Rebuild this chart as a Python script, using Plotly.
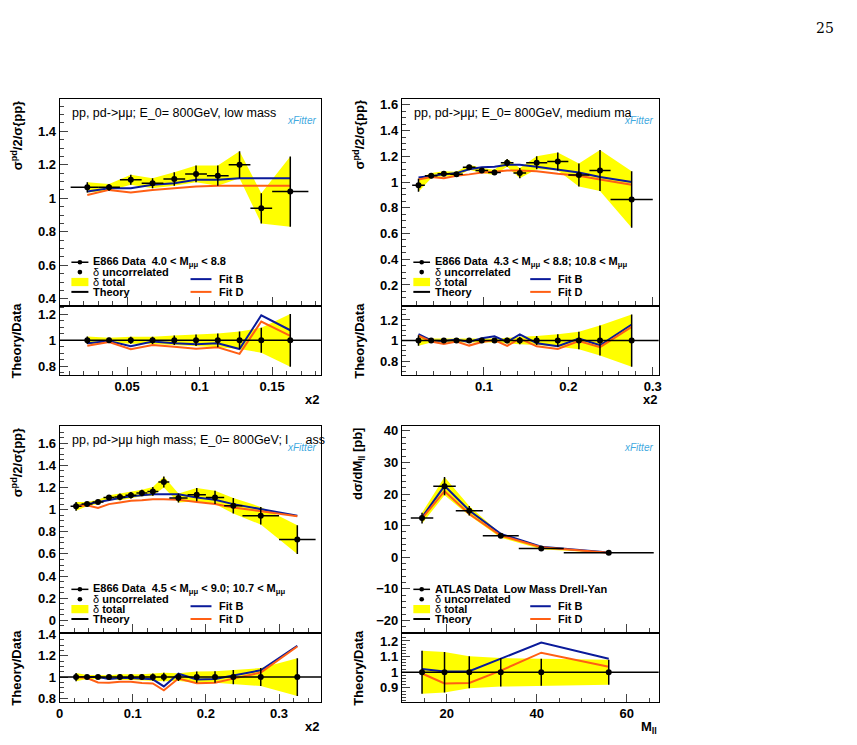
import plotly.graph_objects as go

W, H = 857, 745
FONT = "Liberation Sans"

# ---------------- data ----------------
# Panel 1: E866 low mass
p1_x = [0.0225, 0.0375, 0.0525, 0.0675, 0.0825, 0.0975, 0.1125, 0.1275, 0.1425, 0.1625]
p1_xlo = [0.0115, 0.0075, 0.0075, 0.0075, 0.0075, 0.0075, 0.0075, 0.0075, 0.0075, 0.0125]
p1_xhi = [0.0075, 0.0075, 0.0075, 0.0075, 0.0075, 0.0075, 0.0075, 0.0075, 0.0075, 0.0125]
p1_y = [1.065, 1.065, 1.11, 1.09, 1.115, 1.145, 1.135, 1.20, 0.94, 1.04]
p1_unc = [0.03, 0.015, 0.02, 0.025, 0.03, 0.04, 0.06, 0.09, 0.10, 0.21]
p1_tot = [0.03, 0.02, 0.03, 0.03, 0.04, 0.05, 0.06, 0.08, 0.09, 0.21]
p1_B = [1.04, 1.06, 1.06, 1.08, 1.09, 1.11, 1.11, 1.12, 1.12, 1.12]
p1_D = [1.02, 1.05, 1.035, 1.05, 1.06, 1.07, 1.075, 1.075, 1.075, 1.075]

# Panel 2: E866 medium mass
p2_x = [0.0225, 0.0375, 0.0525, 0.0675, 0.0825, 0.0975, 0.1125, 0.1275, 0.1425, 0.1625, 0.1875, 0.2125, 0.2375, 0.275]
p2_xe = [0.0075] * 9 + [0.0125, 0.0125, 0.0125, 0.0125, 0.025]
p2_y = [0.975, 1.05, 1.065, 1.06, 1.115, 1.09, 1.075, 1.15, 1.07, 1.15, 1.16, 1.055, 1.09, 0.865]
p2_unc = [0.05, 0.02, 0.02, 0.02, 0.02, 0.02, 0.02, 0.03, 0.04, 0.04, 0.06, 0.08, 0.16, 0.22]
p2_tot = [0.05, 0.02, 0.02, 0.02, 0.02, 0.02, 0.02, 0.03, 0.04, 0.05, 0.07, 0.09, 0.16, 0.22]
p2_B = [1.035, 1.05, 1.06, 1.07, 1.10, 1.115, 1.12, 1.135, 1.135, 1.12, 1.095, 1.075, 1.04, 1.0]
p2_D = [1.02, 1.04, 1.03, 1.05, 1.06, 1.075, 1.08, 1.09, 1.09, 1.085, 1.065, 1.05, 1.02, 0.98]

# Panel 3: E866 high mass
p3_x = [0.0225, 0.0375, 0.0525, 0.0675, 0.0825, 0.0975, 0.1125, 0.1275, 0.1425, 0.1625, 0.1875, 0.2125, 0.2375, 0.275, 0.325]
p3_xe = [0.0075] * 9 + [0.0125, 0.0125, 0.0125, 0.0125, 0.025, 0.025]
p3_y = [1.03, 1.05, 1.07, 1.11, 1.115, 1.13, 1.15, 1.165, 1.25, 1.105, 1.135, 1.11, 1.035, 0.945, 0.73]
p3_unc = [0.03, 0.01, 0.01, 0.015, 0.015, 0.02, 0.02, 0.025, 0.04, 0.03, 0.04, 0.05, 0.07, 0.07, 0.14]
p3_tot = [0.04, 0.02, 0.02, 0.02, 0.03, 0.03, 0.03, 0.04, 0.05, 0.04, 0.06, 0.06, 0.07, 0.08, 0.13]
p3_B = [1.03, 1.05, 1.07, 1.09, 1.105, 1.12, 1.13, 1.14, 1.14, 1.14, 1.11, 1.09, 1.05, 1.005, 0.945]
p3_D = [1.03, 1.04, 1.015, 1.05, 1.065, 1.08, 1.085, 1.095, 1.095, 1.09, 1.07, 1.05, 1.02, 0.985, 0.94]

# Panel 4: ATLAS low mass DY
p4_x = [14.5, 19.5, 25, 32, 41, 56]
p4_xe = [2.5, 2.5, 3, 4, 5, 10]
p4_y = [12.4, 22.5, 14.7, 6.8, 2.8, 1.4]
p4_unc = [0.5, 0.45, 0.3, 0.2, 0.14, 0.056]
p4_tot = [1.7, 2.9, 1.5, 0.62, 0.24, 0.112]
p4_B = [12.65, 22.6, 14.8, 7.4, 3.33, 1.52]
p4_D = [12.3, 20.9, 13.7, 6.87, 3.15, 1.45]

DX, DY = -11, -12
def px2x(p): return (p + DX) / W
def px2y(p): return 1 - (p + DY) / H

panels = [
    dict(x=p1_x, xlo=p1_xlo, xhi=p1_xhi, y=p1_y, unc=p1_unc, tot=p1_tot, B=p1_B, D=p1_D,
         px=(59, 323), pm=(97, 306), pr=(308, 377), xr=(0.0034, 0.184), yr=(0.365, 1.594), rr=(0.737, 1.258),
         dtick=0.05, ydt=0.2, rdt=0.2, title="pp, pd->μμ; E_0= 800GeV, low mass",
         leg="E866 Data  4.0 < M<sub>μμ</sub> < 8.8", ytitle="σ<sup>pd</sup>/2/σ{pp}", xtitle="x2"),
    dict(x=p2_x, xlo=p2_xe, xhi=p2_xe, y=p2_y, unc=p2_unc, tot=p2_tot, B=p2_B, D=p2_D,
         px=(404, 663), pm=(97, 306), pr=(308, 377), xr=(0.0027, 0.307), yr=(0.047, 1.648), rr=(0.668, 1.33),
         dtick=0.1, ydt=0.2, rdt=0.2, title="pp, pd->μμ; E_0= 800GeV, medium ma",
         leg="E866 Data  4.3 < M<sub>μμ</sub> < 8.8; 10.8 < M<sub>μμ</sub>", ytitle="σ<sup>pd</sup>/2/σ{pp}", xtitle="x2"),
    dict(x=p3_x, xlo=p3_xe, xhi=p3_xe, y=p3_y, unc=p3_unc, tot=p3_tot, B=p3_B, D=p3_D,
         px=(59, 323), pm=(429, 638), pr=(640, 709), xr=(0.0, 0.358), yr=(-0.103, 1.757), rr=(0.768, 1.408),
         dtick=0.1, ydt=0.2, rdt=0.2, title="pp, pd->μμ high mass; E_0= 800GeV; l     ass",
         leg="E866 Data  4.5 < M<sub>μμ</sub> < 9.0; 10.7 < M<sub>μμ</sub>", ytitle="σ<sup>pd</sup>/2/σ{pp}", xtitle="x2"),
    dict(x=p4_x, xlo=p4_xe, xhi=p4_xe, y=p4_y, unc=p4_unc, tot=p4_tot, B=p4_B, D=p4_D,
         px=(404, 663), pm=(429, 638), pr=(640, 709), xr=(10, 67.1), yr=(-23.6, 41.6), rr=(0.812, 1.246),
         dtick=20, ydt=10, rdt=0.1, title="",
         leg="ATLAS Data  Low Mass Drell-Yan", ytitle="dσ/dM<sub>ll</sub> [pb]", xtitle="M<sub>ll</sub>"),
]

fig = go.Figure()
layout = dict(width=W, height=H, margin=dict(l=0, r=0, t=0, b=0), plot_bgcolor="white",
              paper_bgcolor="white", showlegend=False, font=dict(family=FONT, color="black"))
annotations = []
shapes = []
BLUE = "#0a1a9a"
ORANGE = "#ff5f14"
YEL = "#ffff00"

def axis_common(rng, dt, show_labels=True):
    return dict(range=list(rng), dtick=dt, ticks="inside", ticklen=8, tickwidth=1,
                showline=True, linecolor="black", linewidth=1, mirror=True, showgrid=False,
                zeroline=False, showticklabels=show_labels,
                tickfont=dict(family=FONT, size=13, weight="bold"),
                minor=dict(ticks="inside", ticklen=4, nticks=5, showgrid=False))

def sfx(k): return "" if k == 1 else str(k)

for i, p in enumerate(panels):
    mi = sfx(2 * i + 1)
    ri = sfx(2 * i + 2)
    xm, ym = "x" + mi, "y" + mi
    xr_, yr_ = "x" + ri, "y" + ri
    xd = [px2x(p["px"][0]), px2x(p["px"][1])]
    n = len(p["x"])
    xs = p["x"]
    up = [p["y"][k] + p["tot"][k] for k in range(n)]
    lo = [p["y"][k] - p["tot"][k] for k in range(n)]
    fig.add_trace(go.Scatter(x=xs + xs[::-1], y=up + lo[::-1], fill="toself", fillcolor=YEL,
                             line=dict(width=0), mode="lines", xaxis=xm, yaxis=ym, hoverinfo="skip"))
    fig.add_trace(go.Scatter(x=xs, y=p["B"], mode="lines", line=dict(color=BLUE, width=2), xaxis=xm, yaxis=ym))
    fig.add_trace(go.Scatter(x=xs, y=p["D"], mode="lines", line=dict(color=ORANGE, width=2), xaxis=xm, yaxis=ym))
    fig.add_trace(go.Scatter(x=xs, y=p["y"], mode="markers", marker=dict(color="black", size=6),
                             error_x=dict(type="data", symmetric=False, array=p["xhi"], arrayminus=p["xlo"],
                                          color="black", width=0, thickness=1.5),
                             error_y=dict(type="data", array=p["tot"], color="black", width=0, thickness=1.5),
                             xaxis=xm, yaxis=ym))
    rup = [1 + p["tot"][k] / p["y"][k] for k in range(n)]
    rlo = [1 - p["tot"][k] / p["y"][k] for k in range(n)]
    fig.add_trace(go.Scatter(x=xs + xs[::-1], y=rup + rlo[::-1], fill="toself", fillcolor=YEL,
                             line=dict(width=0), mode="lines", xaxis=xr_, yaxis=yr_, hoverinfo="skip"))
    shapes.append(dict(type="line", xref=f"{xr_} domain", yref=yr_, x0=0, x1=1, y0=1, y1=1,
                       line=dict(color="black", width=1.5)))
    fig.add_trace(go.Scatter(x=xs, y=[p["B"][k] / p["y"][k] for k in range(n)], mode="lines",
                             line=dict(color=BLUE, width=2), xaxis=xr_, yaxis=yr_))
    fig.add_trace(go.Scatter(x=xs, y=[p["D"][k] / p["y"][k] for k in range(n)], mode="lines",
                             line=dict(color=ORANGE, width=2), xaxis=xr_, yaxis=yr_))
    fig.add_trace(go.Scatter(x=xs, y=[1] * n, mode="markers", marker=dict(color="black", size=6),
                             error_y=dict(type="data", array=[p["tot"][k] / p["y"][k] for k in range(n)],
                                          color="black", width=0, thickness=1.5),
                             xaxis=xr_, yaxis=yr_))
    ax_m = axis_common(p["xr"], p["dtick"], show_labels=False)
    ax_m.update(domain=xd, anchor=ym)
    ay_m = axis_common(p["yr"], p["ydt"])
    ay_m.update(domain=[px2y(p["pm"][1]), px2y(p["pm"][0])], anchor=xm)
    ax_r = axis_common(p["xr"], p["dtick"])
    ax_r.update(domain=xd, anchor=yr_)
    ay_r = axis_common(p["rr"], p["rdt"])
    ay_r.update(domain=[px2y(p["pr"][1]), px2y(p["pr"][0])], anchor=xr_)
    layout["xaxis" + mi] = ax_m
    layout["yaxis" + mi] = ay_m
    layout["xaxis" + ri] = ax_r
    layout["yaxis" + ri] = ay_r
    annotations.append(dict(text=f"<b>{p['ytitle']}</b>", textangle=-90, xref="paper", yref=f"{ym} domain",
                            x=px2x(p["px"][0] - 43), y=1, xanchor="center", yanchor="top",
                            showarrow=False, font=dict(size=13)))
    annotations.append(dict(text="<b>Theory/Data</b>", textangle=-90, xref="paper", yref=f"{yr_} domain",
                            x=px2x(p["px"][0] - 43), y=0.5, xanchor="center", yanchor="middle",
                            showarrow=False, font=dict(size=13)))
    annotations.append(dict(text=f"<b>{p['xtitle']}</b>", xref=f"{xr_} domain", yref="paper",
                            x=1, y=px2y(p["pr"][1] + 16), xanchor="right", yanchor="top",
                            showarrow=False, font=dict(size=13)))
    if p["title"]:
        annotations.append(dict(text=p["title"], xref=f"{xm} domain", yref=f"{ym} domain",
                                x=0.04, y=0.975, xanchor="left", yanchor="top", showarrow=False,
                                font=dict(size=12.5)))
    annotations.append(dict(text="<i>xFitter</i>", xref=f"{xm} domain", yref=f"{ym} domain",
                            x=0.985, y=0.93, xanchor="right", yanchor="top", showarrow=False,
                            font=dict(size=10, color="#3fa9e0")))
    rows = [0.206, 0.158, 0.110, 0.062]
    xa, ya = f"{xm} domain", f"{ym} domain"
    shapes.append(dict(type="line", xref=xa, yref=ya, x0=0.045, x1=0.11, y0=rows[0], y1=rows[0],
                       line=dict(color="black", width=1.5)))
    shapes.append(dict(type="rect", xref=xa, yref=ya, x0=0.045, x1=0.11, y0=rows[2] - 0.02, y1=rows[2] + 0.02,
                       fillcolor=YEL, line=dict(width=0)))
    shapes.append(dict(type="line", xref=xa, yref=ya, x0=0.045, x1=0.11, y0=rows[3], y1=rows[3],
                       line=dict(color="black", width=2)))
    shapes.append(dict(type="line", xref=xa, yref=ya, x0=0.50, x1=0.58, y0=0.124, y1=0.124,
                       line=dict(color=BLUE, width=2)))
    shapes.append(dict(type="line", xref=xa, yref=ya, x0=0.50, x1=0.58, y0=0.062, y1=0.062,
                       line=dict(color=ORANGE, width=2)))
    for yy in (rows[0], rows[1]):
        shapes.append(dict(type="circle", xref=xa, yref=ya, x0=0.0775 - 0.009, x1=0.0775 + 0.009,
                           y0=yy - 0.011, y1=yy + 0.011, fillcolor="black", line=dict(width=0)))
    labels = [(f"<b>{p['leg']}</b>", rows[0]), ("δ <b>uncorrelated</b>", rows[1]),
              ("δ <b>total</b>", rows[2]), ("<b>Theory</b>", rows[3])]
    for t, yy in labels:
        annotations.append(dict(text=t, xref=xa, yref=ya, x=0.12, y=yy, xanchor="left",
                                yanchor="middle", showarrow=False, font=dict(size=11)))
    annotations.append(dict(text="<b>Fit B</b>", xref=xa, yref=ya, x=0.60, y=0.124, xanchor="left",
                            yanchor="middle", showarrow=False, font=dict(size=11)))
    annotations.append(dict(text="<b>Fit D</b>", xref=xa, yref=ya, x=0.60, y=0.062, xanchor="left",
                            yanchor="middle", showarrow=False, font=dict(size=11)))

annotations.append(dict(text="25", xref="paper", yref="paper", x=px2x(842), y=px2y(25),
                        xanchor="right", yanchor="middle", showarrow=False,
                        font=dict(family="DejaVu Serif", size=14)))
layout["annotations"] = annotations
layout["shapes"] = shapes
fig.update_layout(**layout)
fig.write_html("out.html")
